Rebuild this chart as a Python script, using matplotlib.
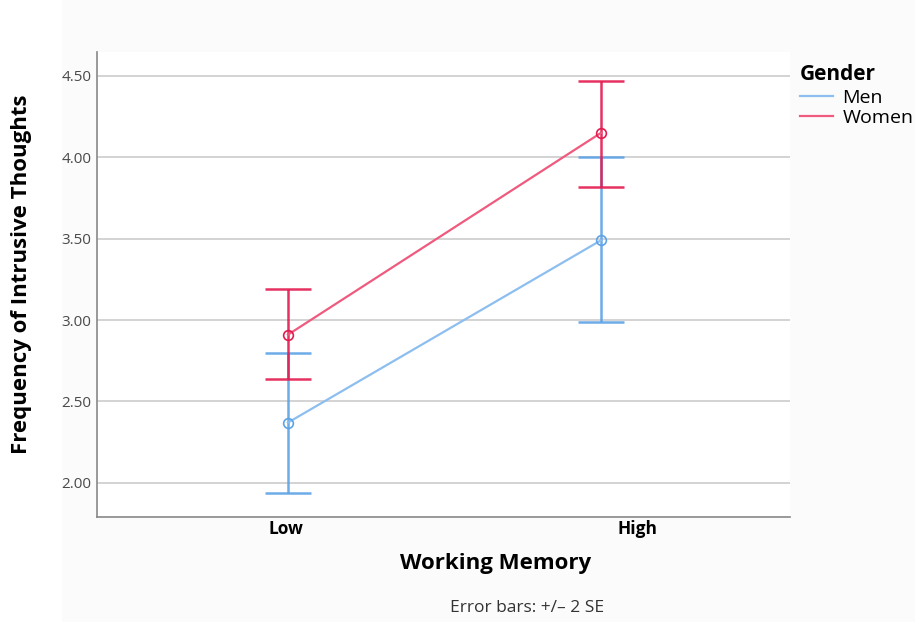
import matplotlib.pyplot as plt
import matplotlib.patches as mpatches
import numpy as np

plt.rcParams['font.family'] = ['Open Sans', 'DejaVu Sans']

# data (means and +/- 2 SE limits)
levels = ['Low', 'High']
men_mean = [2.37, 3.49]
men_lo = [1.94, 2.99]
men_hi = [2.80, 4.00]
women_mean = [2.91, 4.15]
women_lo = [2.64, 3.82]
women_hi = [3.19, 4.47]

men_line = '#8dbef0'
men_bar = '#5ea3e6'
women_line = '#ef5a7e'
women_bar = '#e31b4f'

fig = plt.figure(figsize=(9.15, 6.22), dpi=100)
fig.patch.set_facecolor('#fbfbfb')
fig.patches.append(mpatches.Rectangle((0, 0), 62 / 915, 1, transform=fig.transFigure,
                                      facecolor='white', edgecolor='none', zorder=-5))

ax = fig.add_axes([97 / 915, 1 - 517 / 622, 693 / 915, 465 / 622])
ax.set_facecolor('white')
x = np.arange(len(levels))

def draw_group(mean, lo, hi, lc, bc, label):
    mean = np.array(mean)
    err = [mean - np.array(lo), np.array(hi) - mean]
    ax.errorbar(x, mean, yerr=err, fmt='none', ecolor=bc, elinewidth=1.8,
                capsize=16.5, capthick=1.8, alpha=0.9, zorder=3)
    ax.plot(x, mean, color=lc, lw=1.6, marker='o', markersize=7,
            markerfacecolor='none', markeredgecolor=bc, markeredgewidth=1.2,
            label=label, zorder=4)

draw_group(men_mean, men_lo, men_hi, men_line, men_bar, 'Men')
draw_group(women_mean, women_lo, women_hi, women_line, women_bar, 'Women')

ax.set_xlim(-0.61, 1.604)
ax.set_ylim(1.79, 4.647)
ax.set_yticks([2.0, 2.5, 3.0, 3.5, 4.0, 4.5])
ax.set_yticklabels(['%.2f' % v for v in ax.get_yticks()])
ax.set_xticks(x)
ax.set_xticklabels([])
ax.tick_params(axis='both', length=0)
ax.tick_params(axis='y', labelsize=11, labelcolor='#4a4a4a', pad=4)
ax.yaxis.grid(True, color='#cccccc', lw=1.2)
ax.set_axisbelow(True)
for s in ['top', 'right']:
    ax.spines[s].set_visible(False)
for s in ['left', 'bottom']:
    ax.spines[s].set_color('#888888')
    ax.spines[s].set_linewidth(1.2)

# category labels (the High label sits right of its tick in the original)
label_shift = [-2, 37]
for xi, lab, dx in zip(x, levels, label_shift):
    ax.annotate(lab, xy=(xi, 0), xycoords=ax.get_xaxis_transform(),
                xytext=(dx * 0.72, -8.5), textcoords='offset points',
                ha='center', va='center', fontweight='bold', fontsize=12.5)

ax.set_xlabel('Working Memory', fontweight='bold', fontsize=16)
ax.xaxis.set_label_coords((496 - 97) / 693, -(563 - 517) / 465)
ax.xaxis.label.set_va('center')
ax.set_ylabel('Frequency of Intrusive Thoughts', fontweight='bold', fontsize=16)
ax.yaxis.set_label_coords((22 - 97) / 693, (517 - 274) / 465)
ax.yaxis.label.set_va('center')

leg = fig.legend(loc='upper left', bbox_to_anchor=(792 / 915, 1 - 56 / 622), frameon=False,
                 title='Gender', fontsize=14, handlelength=1.7, handletextpad=0.5,
                 labelspacing=0.1, borderaxespad=0)
leg.get_title().set_fontweight('bold')
leg.get_title().set_fontsize(15)
leg._legend_box.align = 'left'
leg._legend_box.sep = 3
for h in leg.get_lines():
    h.set_marker('')

fig.text(527 / 915, 1 - 608 / 622, 'Error bars: +/\u2013 2 SE', ha='center', va='center',
         fontsize=12.5, color='#333333')

fig.savefig('out.png', dpi=100)
